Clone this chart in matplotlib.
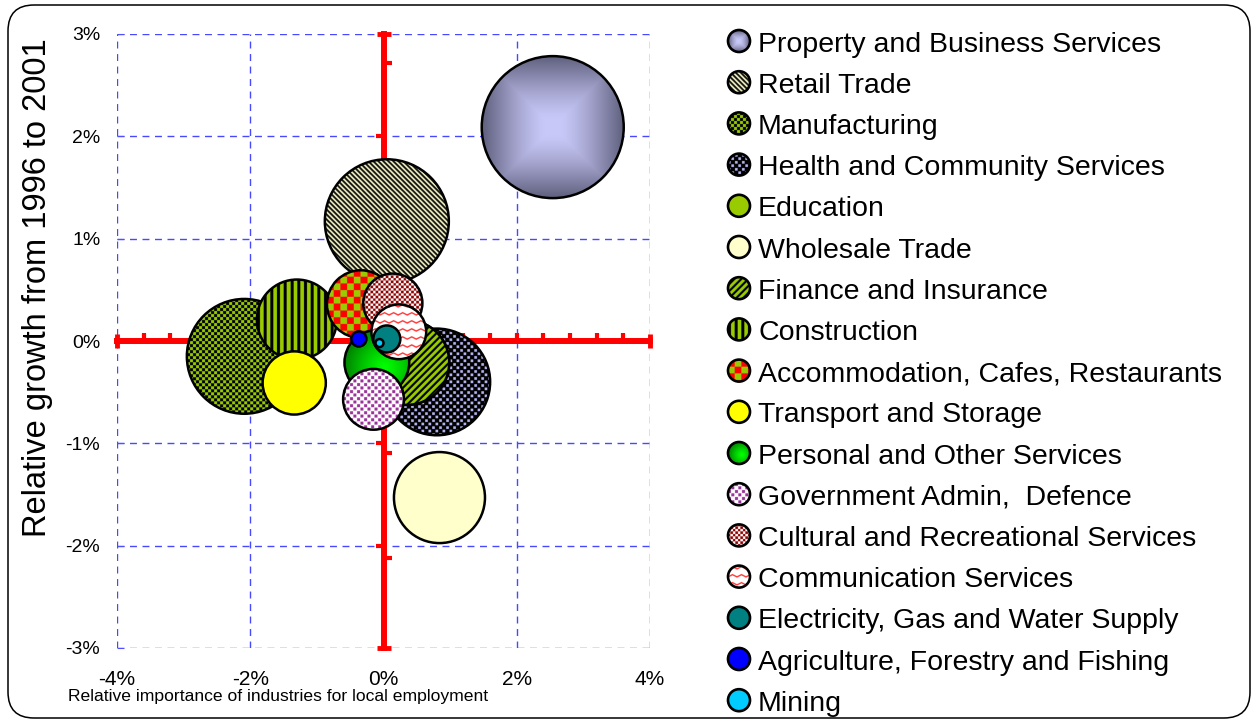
import numpy as np
import matplotlib
matplotlib.use("Agg")
import matplotlib.pyplot as plt
import matplotlib.colors as mcolors
from matplotlib.patches import Ellipse, FancyBboxPatch
from matplotlib.ticker import FuncFormatter

# industries in legend / drawing order
industries = [
    "Property and Business Services", "Retail Trade", "Manufacturing",
    "Health and Community Services", "Education", "Wholesale Trade",
    "Finance and Insurance", "Construction", "Accommodation, Cafes, Restaurants",
    "Transport and Storage", "Personal and Other Services",
    "Government Admin,  Defence", "Cultural and Recreational Services",
    "Communication Services", "Electricity, Gas and Water Supply",
    "Agriculture, Forestry and Fishing", "Mining",
]
# relative importance for local employment (%)
importance = [2.54, 0.05, -2.09, 0.80, 0.35, 0.84, 0.35, -1.30, -0.34,
              -1.34, -0.10, -0.15, 0.14, 0.23, 0.05, -0.37, -0.06]
# relative growth 1996-2001 (%)
growth = [2.09, 1.17, -0.15, -0.40, -0.21, -1.53, -0.21, 0.21, 0.36,
          -0.41, -0.21, -0.57, 0.37, 0.09, 0.02, 0.02, -0.02]
# employment (bubble size, area)
employment = [20.2, 15.4, 13.2, 11.4, 7.2, 8.3, 7.2, 6.4, 4.6,
              4.0, 4.2, 3.7, 3.5, 3.0, 0.73, 0.23, 0.064]

x_ticks = [-4, -2, 0, 2, 4]
y_ticks = [-3, -2, -1, 0, 1, 2, 3]

GREEN = "#99CC00"
styles = {
    "Property and Business Services": ("square_grad", "#C8C8F8", "#5E5E7C"),
    "Retail Trade": ("diag_back", "#111111", "#F4F4C4", 5.0, 2.4),
    "Manufacturing": ("checker", "#000000", GREEN, 3.0),
    "Health and Community Services": ("dots", "#000000", "#B4B4F0", 7.0, 2.6),
    "Education": ("solid", GREEN),
    "Wholesale Trade": ("solid", "#FFFFCC"),
    "Finance and Insurance": ("diag_fwd", "#000000", GREEN, 7.0, 3.0),
    "Construction": ("vstripes", "#000000", GREEN, 6.7, 3.0),
    "Accommodation, Cafes, Restaurants": ("checker", "#FF0000", GREEN, 6.7),
    "Transport and Storage": ("solid", "#FFFF00"),
    "Personal and Other Services": ("radial_grad", "#00FF00", "#007A00"),
    "Government Admin,  Defence": ("dots", "#FFFFFF", "#993399", 7.0, 3.0),
    "Cultural and Recreational Services": ("checker", "#8B0000", "#FFFFFF", 2.5),
    "Communication Services": ("waves", "#FFFFFF", "#FF3030"),
    "Electricity, Gas and Water Supply": ("solid", "#008080"),
    "Agriculture, Forestry and Fishing": ("solid", "#0000FF"),
    "Mining": ("solid", "#00CCFF"),
}

W, H = 1254, 722
MAX_BUBBLE_PX = 142
SANS = ["Liberation Sans", "DejaVu Sans"]


def rgb(c):
    return np.array(mcolors.to_rgb(c))


def pattern(style, n, ss):
    # build an n x n rgb tile, ss image pixels per screen pixel
    idx = (np.arange(n) + 0.5) / ss
    X, Y = np.meshgrid(idx, idx)
    c = n / ss / 2.0
    U = (X - c) / c
    V = (Y - c) / c
    kind = style[0]
    if kind == "solid":
        return np.ones((n, n, 3)) * rgb(style[1])
    if kind == "square_grad":
        t = np.maximum(np.abs(U), np.abs(V))
        t = np.clip((t - 0.12) / 0.88, 0, 1) ** 1.3
        return rgb(style[1]) * (1 - t[..., None]) + rgb(style[2]) * t[..., None]
    if kind == "radial_grad":
        r = np.clip(np.hypot(U - 0.25, V - 0.15) / 1.3, 0, 1) ** 1.2
        return rgb(style[1]) * (1 - r[..., None]) + rgb(style[2]) * r[..., None]
    if kind == "checker":
        sq = style[3]
        mask = ((np.floor(X / sq) + np.floor(Y / sq)) % 2) == 0
    elif kind == "diag_back":
        mask = ((X - Y) % style[3]) < style[4]
    elif kind == "diag_fwd":
        mask = ((X + Y) % style[3]) < style[4]
    elif kind == "vstripes":
        mask = (X % style[3]) < style[4]
    elif kind == "dots":
        p, s = style[3], style[4]
        m1 = ((X % p) < s) & ((Y % p) < s)
        m2 = (((X + p / 2) % p) < s) & (((Y + p / 2) % p) < s)
        return np.where((m1 | m2)[..., None], rgb(style[2]), rgb(style[1]))
    elif kind == "waves":
        lam, amp, gap = 9.0, 2.2, 8.0
        tri = np.abs(((X / lam) % 1.0) - 0.5) * 2 * amp
        d = (Y - tri) % gap
        return np.where((d < 1.4)[..., None], rgb(style[2]), rgb(style[1]))
    else:
        mask = np.zeros_like(X, dtype=bool)
    return np.where(mask[..., None], rgb(style[1]), rgb(style[2]))


def draw_bubble(axis, cx, cy, w, h, npx, style, z, lw=1.8):
    ss = 3
    n = max(int(round(npx * ss)), 4)
    img = pattern(style, n, ss)
    if axis.yaxis_inverted():
        ext = (cx - w / 2, cx + w / 2, cy + h / 2, cy - h / 2)
    else:
        ext = (cx - w / 2, cx + w / 2, cy - h / 2, cy + h / 2)
    im = axis.imshow(img, extent=ext, origin="upper", aspect="auto",
                     interpolation="antialiased", zorder=z)
    ring = Ellipse((cx, cy), w, h, facecolor="none", edgecolor="black",
                   linewidth=lw, zorder=z + 0.1)
    axis.add_patch(ring)
    im.set_clip_path(ring)


fig = plt.figure(figsize=(W / 100, H / 100), dpi=100)

# pixel-space overlay for frame and legend
lax = fig.add_axes([0, 0, 1, 1], zorder=0)
lax.set_xlim(0, W)
lax.set_ylim(H, 0)
lax.axis("off")
frame = FancyBboxPatch((8, 5), 1242, 713, boxstyle="round,pad=0,rounding_size=26",
                       facecolor="none", edgecolor="black", linewidth=1.1)
lax.add_patch(frame)

ax = fig.add_axes([117 / W, 74 / H, 533 / W, 614 / H], zorder=1)
ax.set_xlim(-4, 4)
ax.set_ylim(-3, 3)
for s in ax.spines.values():
    s.set_visible(False)

ax.set_xticks(x_ticks)
ax.set_yticks(y_ticks)
pct = FuncFormatter(lambda v, p: f"{int(round(v))}%")
ax.xaxis.set_major_formatter(pct)
ax.yaxis.set_major_formatter(pct)
ax.tick_params(axis="x", length=0, pad=16, labelsize=15)
ax.tick_params(axis="y", direction="in", length=5, color="#5050FF", pad=12,
               labelsize=14)
for lab in ax.get_xticklabels() + ax.get_yticklabels():
    lab.set_family(SANS)
ax.grid(True, color="#4848FF", linestyle=(0, (5, 4)), linewidth=1.0, zorder=0)
ax.set_axisbelow(True)

# red cross-hair axes
red = "#FF0000"
h_ticks = np.arange(-3.6, 3.61, 0.4)
ax.plot([-4, 4], [0, 0], color=red, lw=4.3, zorder=2, clip_on=False)
ax.plot([0, 0], [-3, 3], color=red, lw=4.3, zorder=2, clip_on=False)
ax.plot(h_ticks, np.zeros_like(h_ticks), ls="none", marker=2, ms=6, mew=3,
        color=red, zorder=2)
ax.plot([-4, 4], [0, 0], ls="none", marker="|", ms=10, mew=3.5, color=red,
        zorder=2, clip_on=False)
ax.plot([0, 0], [-3, 3], ls="none", marker="_", ms=10, mew=3.5, color=red,
        zorder=2, clip_on=False)
v_ticks_left = [2, 1, -1, -2]
v_ticks_right = [2.72, -1.09, -2.12]
ax.plot(np.zeros(len(v_ticks_left)), v_ticks_left, ls="none", marker=0, ms=6,
        mew=3, color=red, zorder=2)
ax.plot(np.zeros(len(v_ticks_right)), v_ticks_right, ls="none", marker=1, ms=6,
        mew=3, color=red, zorder=2)

# pixels per data unit
ppx = ax.bbox.width / (ax.get_xlim()[1] - ax.get_xlim()[0])
ppy = ax.bbox.height / (ax.get_ylim()[1] - ax.get_ylim()[0])
vmax = max(employment)

for i, name in enumerate(industries):
    d = MAX_BUBBLE_PX * np.sqrt(employment[i] / vmax)
    draw_bubble(ax, importance[i], growth[i], d / ppx, d / ppy, d,
                styles[name], z=3 + i)

ax.set_xlim(-4, 4)
ax.set_ylim(-3, 3)

# legend
for i, name in enumerate(industries):
    yc = 41 + 41.2 * i
    r = 11
    draw_bubble(lax, 739, yc, 2 * r, 2 * r, 2 * r, styles[name], z=3, lw=1.9)
    lax.text(758, yc + 10.5, name, fontsize=20.5, family=SANS,
             ha="left", va="baseline")

fig.text(38 / W, 1 - 288 / H, "Relative growth from 1996 to 2001", rotation=90,
         ha="center", va="center", fontsize=23.5, family=SANS)
fig.text(68 / W, 1 - 696 / H, "Relative importance of industries for local employment",
         ha="left", va="center", fontsize=12.6, family=SANS)

fig.savefig("out.png", dpi=100)
